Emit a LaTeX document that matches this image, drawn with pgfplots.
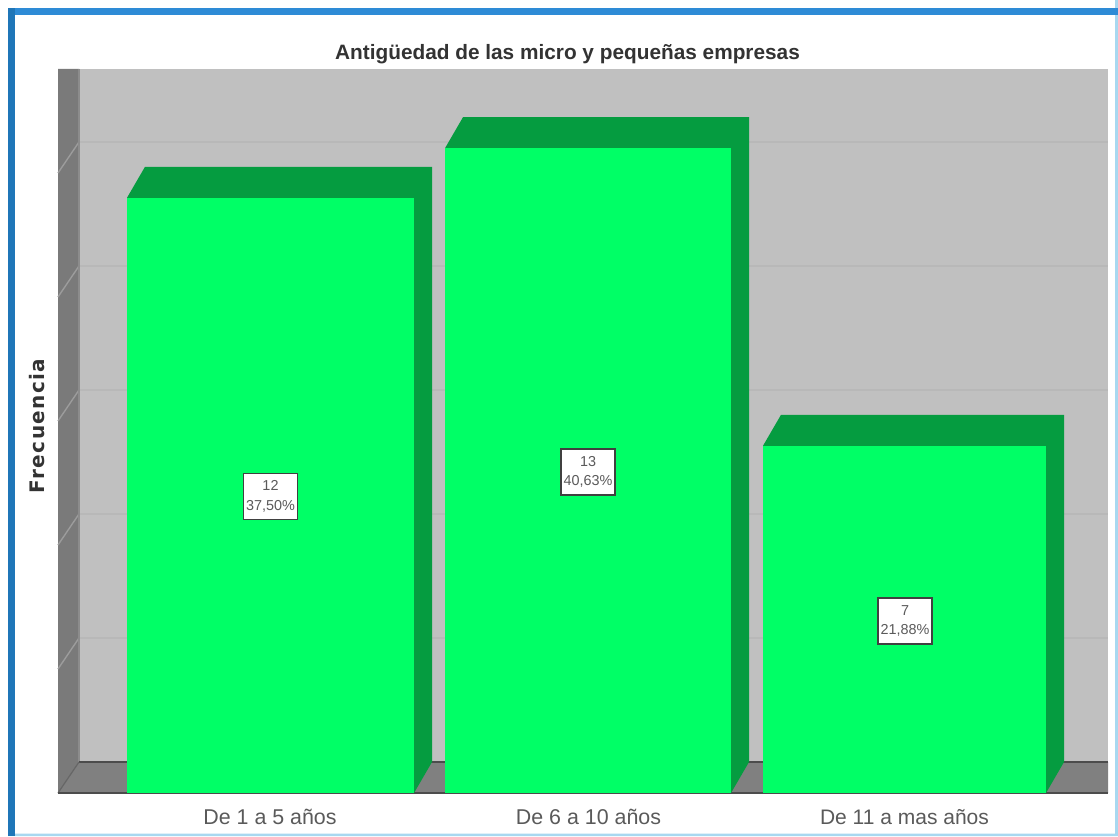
\documentclass[border=0pt]{standalone}
\usepackage{pgfplots}
\pgfplotsset{compat=1.18}
\usepackage{fontspec}
\setmainfont{Liberation Sans}
\newfontfamily\spaced[LetterSpace=7]{DejaVu Sans}
\definecolor{wallback}{HTML}{C0C0C0}
\definecolor{wallside}{HTML}{7A7A7A}
\definecolor{floorc}{HTML}{808080}
\definecolor{gridc}{HTML}{B8B8B8}
\definecolor{gridl}{HTML}{9C9C9C}
\definecolor{barfront}{HTML}{00FF66}
\definecolor{barside}{HTML}{059C40}
\definecolor{frameb}{HTML}{2E8BD6}
\definecolor{framel}{HTML}{1F76B8}
\definecolor{framet}{HTML}{A8D8F0}
\definecolor{txt}{HTML}{5A5A5A}
\definecolor{ttl}{HTML}{333333}
\begin{document}
\begin{tikzpicture}
\begin{axis}[
  scale only axis, width=559pt, height=418pt,
  xmin=0, xmax=1118, ymin=-0.86694, ymax=15.98790,
  axis lines=none, clip=true,
]
% page and frame
\addplot[fill=white, draw=none] coordinates {(0,-0.86694) (1118,-0.86694) (1118,15.9879) (0,15.9879)} -- cycle;
\addplot[fill=framet, draw=none] coordinates {(8,-0.86694) (1118,-0.86694) (1118,15.9879) (1115,15.9879) (1115,-0.82) (8,-0.82)} -- cycle;
\addplot[fill=framet, draw=none] coordinates {(1115,-0.86694) (1118,-0.86694) (1118,15.8) (1115,15.8)} -- cycle;
\addplot[fill=frameb, draw=none] coordinates {(8,15.82) (1118,15.82) (1118,15.68) (8,15.68)} -- cycle;
\addplot[fill=framel, draw=none] coordinates {(8,15.82) (15,15.82) (15,-0.86694) (8,-0.86694)} -- cycle;
% walls
\addplot[fill=wallback, draw=none] coordinates {(79,14.597) (1108,14.597) (1108,0.625) (79,0.625)} -- cycle;
\addplot[fill=wallside, draw=none] coordinates {(58,14.597) (79,14.597) (79,0.625) (58,0)} -- cycle;
\addplot[fill=floorc, draw=none] coordinates {(58,0) (79,0.625) (1108,0.625) (1108,0)} -- cycle;
% gridlines
\addplot[gridc, line width=0.7pt] coordinates {(79,13.125) (1108,13.125)};
\addplot[gridc, line width=0.7pt] coordinates {(79,10.625) (1108,10.625)};
\addplot[gridc, line width=0.7pt] coordinates {(79,8.125) (1108,8.125)};
\addplot[gridc, line width=0.7pt] coordinates {(79,5.625) (1108,5.625)};
\addplot[gridc, line width=0.7pt] coordinates {(79,3.125) (1108,3.125)};
\addplot[gridl, line width=0.7pt] coordinates {(58,12.5) (79,13.125)};
\addplot[gridl, line width=0.7pt] coordinates {(58,10) (79,10.625)};
\addplot[gridl, line width=0.7pt] coordinates {(58,7.5) (79,8.125)};
\addplot[gridl, line width=0.7pt] coordinates {(58,5) (79,5.625)};
\addplot[gridl, line width=0.7pt] coordinates {(58,2.5) (79,3.125)};
% floor edges
\addplot[black!45, line width=0.7pt] coordinates {(79,14.597) (79,0.625)};
\addplot[black!70, line width=1.2pt] coordinates {(79,0.625) (1108,0.625)};
\addplot[black!60, line width=0.6pt] coordinates {(58,0) (79,0.625)};
\addplot[black!70, line width=1.2pt] coordinates {(58,0) (1108,0)};
% bar sides and tops
\addplot[fill=barside, draw=none] coordinates {(127,12) (145,12.625) (432,12.625) (432,0.625) (414,0) (414,12)} -- cycle;
\addplot[fill=barside, draw=none] coordinates {(445,13) (463,13.625) (749,13.625) (749,0.625) (731,0) (731,13)} -- cycle;
\addplot[fill=barside, draw=none] coordinates {(763,7) (781,7.625) (1064,7.625) (1064,0.625) (1046,0) (1046,7)} -- cycle;
% bar fronts
\addplot[ybar, bar shift=0pt, bar width=143.5pt, fill=barfront, draw=none] coordinates {(270.5,12)};
\addplot[ybar, bar shift=0pt, bar width=143pt, fill=barfront, draw=none] coordinates {(588,13)};
\addplot[ybar, bar shift=0pt, bar width=141.5pt, fill=barfront, draw=none] coordinates {(904.5,7)};
% value labels
\node[draw=black!75, fill=white, line width=0.7pt, minimum width=27pt, minimum height=23pt, inner sep=0pt, align=center, text=txt, font=\fontsize{7.2}{9.6}\selectfont] at (axis cs:270.5,5.98) {12\\37,50\%};
\node[draw=black!75, fill=white, line width=0.7pt, minimum width=27pt, minimum height=23pt, inner sep=0pt, align=center, text=txt, font=\fontsize{7.2}{9.6}\selectfont] at (axis cs:588,6.47) {13\\40,63\%};
\node[draw=black!75, fill=white, line width=0.7pt, minimum width=27pt, minimum height=23pt, inner sep=0pt, align=center, text=txt, font=\fontsize{7.2}{9.6}\selectfont] at (axis cs:905,3.47) {7\\21,88\%};
% texts
\node[text=ttl, font=\bfseries\fontsize{10.4}{12}\selectfont] at (axis cs:567.5,14.9) {Antigüedad de las micro y pequeñas empresas};
\node[text=ttl, rotate=90, font=\spaced\bfseries\fontsize{10}{12}\selectfont] at (axis cs:37,7.4) {Frecuencia};
\node[text=txt, font=\fontsize{10.7}{12}\selectfont] at (axis cs:270,-0.48) {De 1 a 5 años};
\node[text=txt, font=\fontsize{10.7}{12}\selectfont] at (axis cs:588.5,-0.48) {De 6 a 10 años};
\node[text=txt, font=\fontsize{10.5}{12}\selectfont] at (axis cs:904.5,-0.48) {De 11 a mas años};
\end{axis}
\end{tikzpicture}
\end{document}
